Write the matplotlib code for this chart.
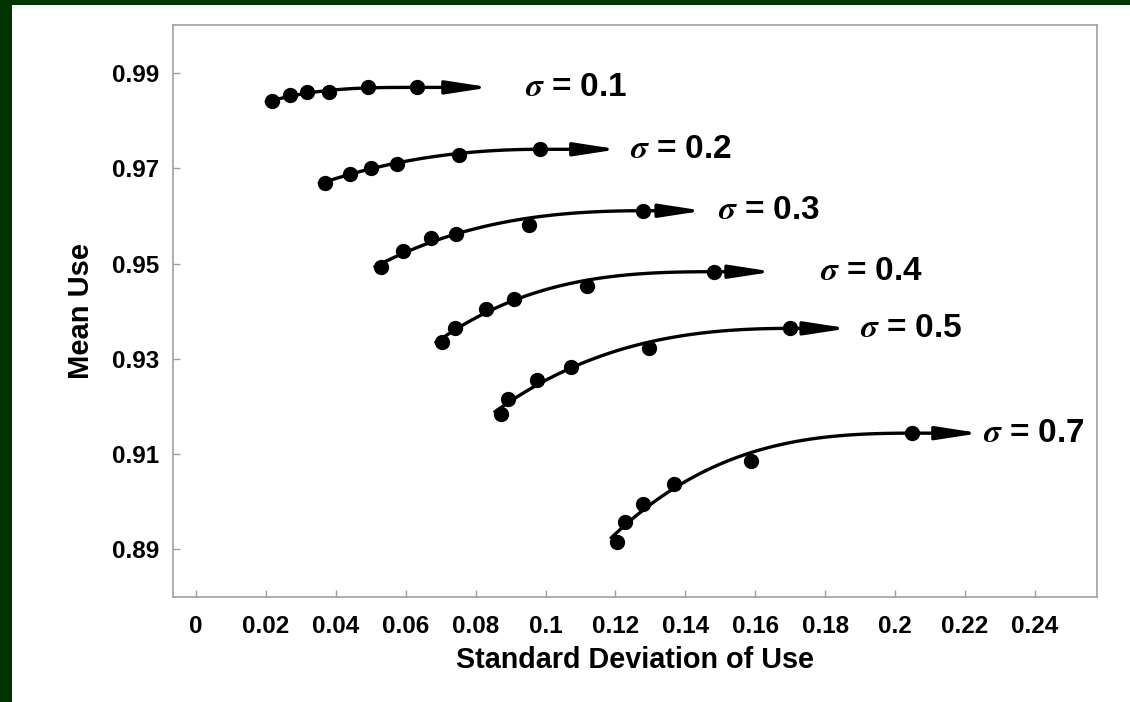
import numpy as np
import matplotlib
matplotlib.use("Agg")
import matplotlib.pyplot as plt
from matplotlib.patches import Rectangle

plt.rcParams['font.family'] = ['Liberation Sans', 'DejaVu Sans']
plt.rcParams['font.weight'] = 'bold'
plt.rcParams['mathtext.fontset'] = 'stix'

# data: (std dev of use, mean use) per sigma
sigmas = ['0.1', '0.2', '0.3', '0.4', '0.5', '0.7']
sd = [
    [0.0217, 0.0269, 0.0318, 0.0381, 0.0492, 0.0632],
    [0.0369, 0.0441, 0.0500, 0.0574, 0.0753, 0.0984],
    [0.0528, 0.0592, 0.0673, 0.0744, 0.0954, 0.1278],
    [0.0703, 0.0741, 0.0830, 0.0910, 0.1118, 0.1482],
    [0.0872, 0.0894, 0.0975, 0.1072, 0.1297, 0.1700],
    [0.1205, 0.1227, 0.1278, 0.1368, 0.1587, 0.2048],
]
mean = [
    [0.9841, 0.9853, 0.9860, 0.9860, 0.9870, 0.9870],
    [0.9670, 0.9689, 0.9701, 0.9710, 0.9729, 0.9740],
    [0.9492, 0.9526, 0.9554, 0.9563, 0.9581, 0.9611],
    [0.9336, 0.9364, 0.9405, 0.9425, 0.9454, 0.9483],
    [0.9184, 0.9216, 0.9255, 0.9283, 0.9323, 0.9364],
    [0.8916, 0.8958, 0.8996, 0.9038, 0.9085, 0.9144],
]
# where the arrows point and where the labels start (x)
arrow_tip = [0.0841, 0.1207, 0.1451, 0.1651, 0.1866, 0.2243]
label_x = [0.0941, 0.1242, 0.1494, 0.1786, 0.1900, 0.2252]

xticks = np.arange(0, 0.25, 0.02)
yticks = np.arange(0.89, 0.995, 0.02)

fig = plt.figure(figsize=(11.3, 7.02), dpi=100, facecolor='#003300')
fig.patches.append(Rectangle((12/1130, 0), 1, 697/702, transform=fig.transFigure,
                             facecolor='white', edgecolor='none', zorder=-1))
ax = fig.add_axes([173/1130, 105/702, 924/1130, 572/702])

for s, x, y, tip, lx in zip(sigmas, sd, mean, arrow_tip, label_x):
    x = np.array(x)
    y = np.array(y)
    # trend curve: flat at the last point, fitted to the rest
    dx = x - x[-1]
    A = np.column_stack([dx**2, dx**3])
    b, c = np.linalg.lstsq(A, y - y[-1], rcond=None)[0]
    xs = np.linspace(x[0] - 0.002, x[-1], 100)
    d = xs - x[-1]
    ax.plot(xs, y[-1] + b*d**2 + c*d**3, color='black', lw=2.4, solid_capstyle='butt')
    ax.plot(x, y, 'o', color='black', ms=10)
    ax.annotate('', xy=(tip, y[-1]), xytext=(x[-1], y[-1]),
                arrowprops=dict(arrowstyle='-|>,head_length=2.6,head_width=0.4',
                                color='black', lw=2.4, shrinkA=0, shrinkB=0,
                                mutation_scale=10))
    ax.text(lx, y[-1], r'$\sigma$ = ' + s, fontsize=24, fontweight='bold',
            ha='left', va='center')

ax.set_xlim(-0.0066, 0.2578)
ax.set_ylim(0.88, 1.0001)
ax.set_xticks(xticks)
ax.set_xticklabels([f'{v:g}' for v in np.round(xticks, 2)])
ax.set_yticks(yticks)
ax.set_yticklabels([f'{v:.2f}' for v in yticks])
ax.tick_params(direction='in', length=5, width=1, color='#a0a0a0', labelsize=17.5)
ax.tick_params(axis='x', pad=13)
ax.tick_params(axis='y', pad=10)
for sp in ax.spines.values():
    sp.set_color('#a0a0a0')
    sp.set_linewidth(1.2)

ax.set_xlabel('Standard Deviation of Use', fontsize=20.7, fontweight='bold', labelpad=6)
ax.set_ylabel('Mean Use', fontsize=21, fontweight='bold', labelpad=12)

fig.savefig('out.png', dpi=100, facecolor=fig.get_facecolor())
